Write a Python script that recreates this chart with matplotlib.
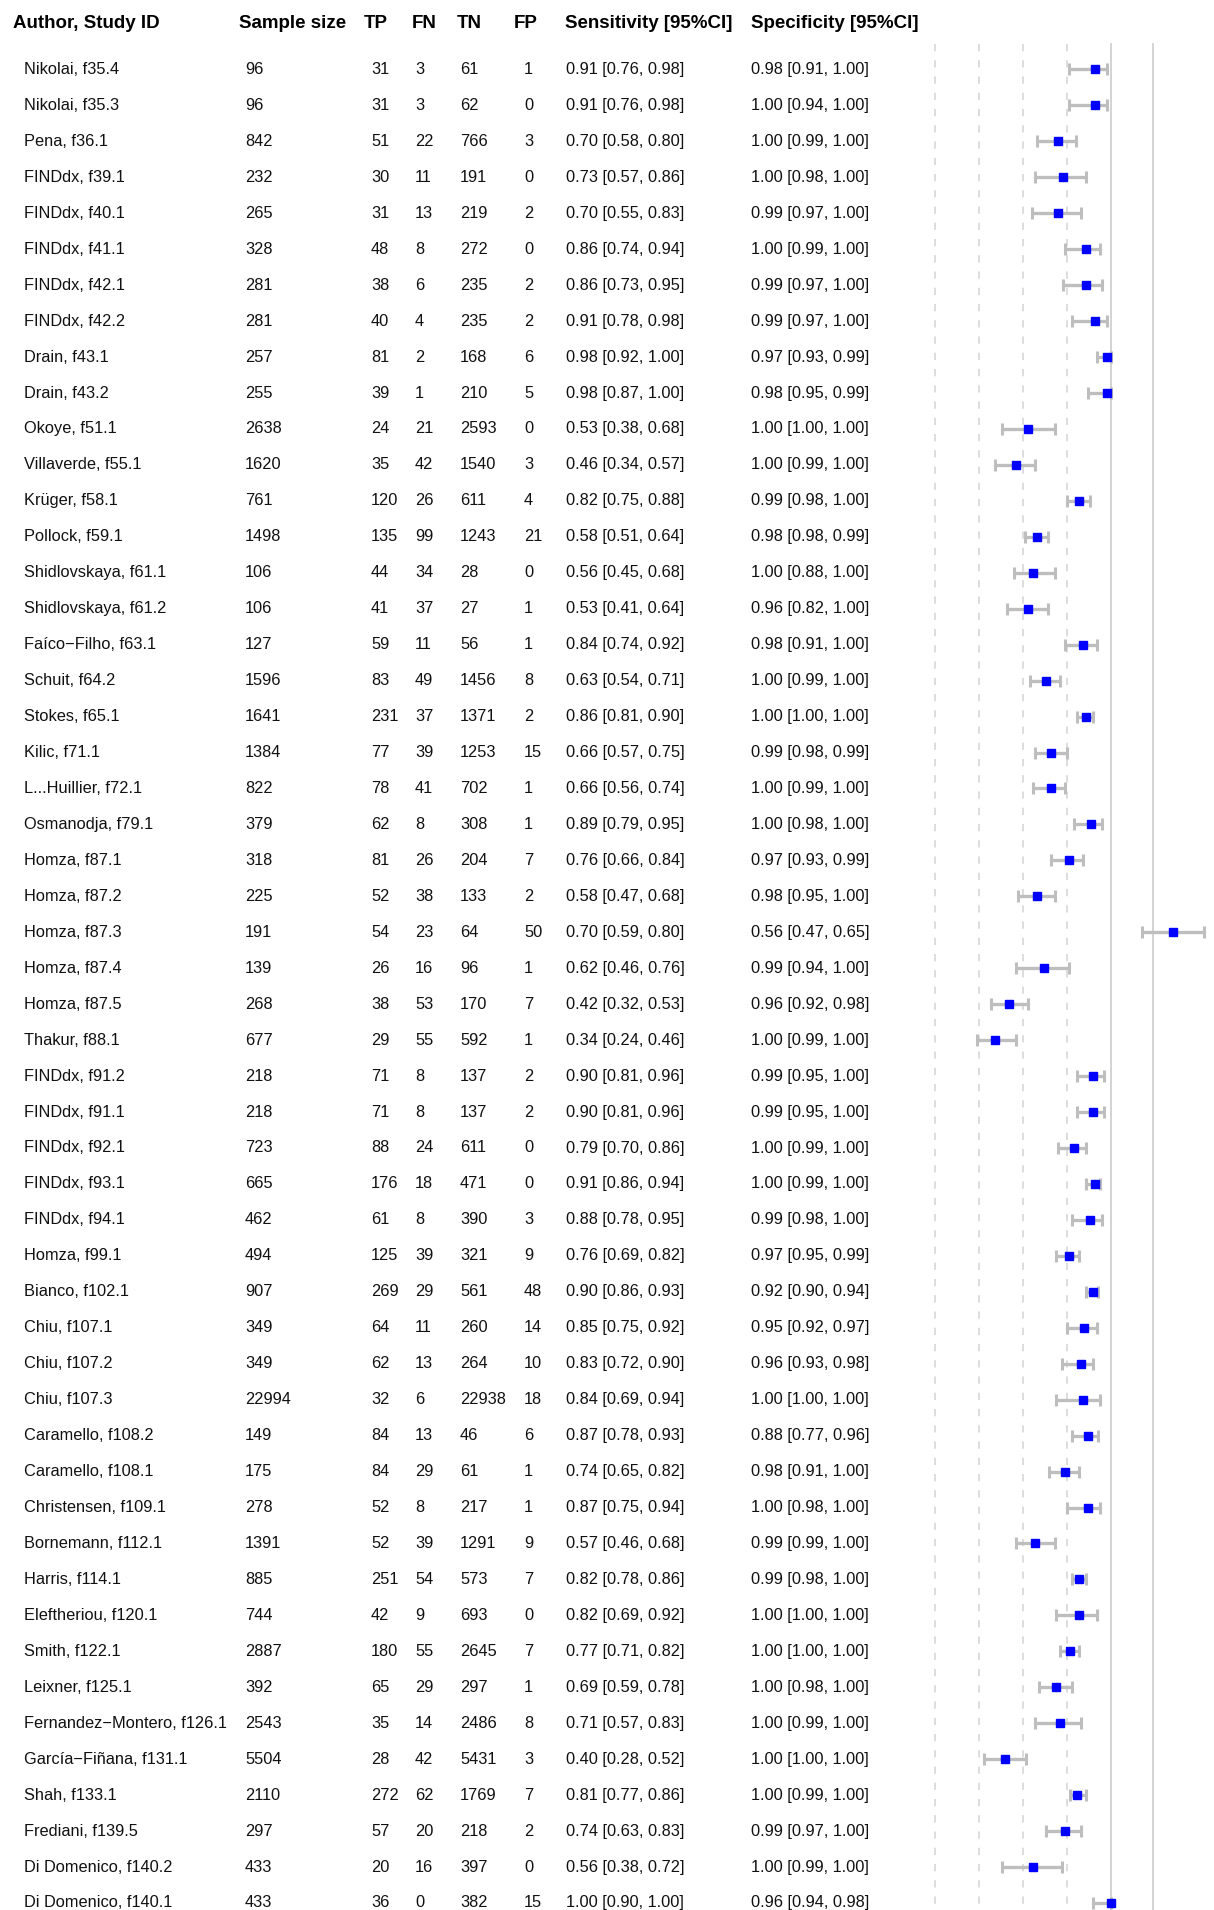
import matplotlib
matplotlib.use("Agg")
import matplotlib.pyplot as plt

plt.rcParams["font.family"] = ["Liberation Sans", "DejaVu Sans"]

studies = [
    "Nikolai, f35.4", "Nikolai, f35.3", "Pena, f36.1", "FINDdx, f39.1", "FINDdx, f40.1",
    "FINDdx, f41.1", "FINDdx, f42.1", "FINDdx, f42.2", "Drain, f43.1", "Drain, f43.2",
    "Okoye, f51.1", "Villaverde, f55.1", "Krüger, f58.1", "Pollock, f59.1",
    "Shidlovskaya, f61.1", "Shidlovskaya, f61.2", "Faíco\u2212Filho, f63.1", "Schuit, f64.2",
    "Stokes, f65.1", "Kilic, f71.1", "L...Huillier, f72.1", "Osmanodja, f79.1",
    "Homza, f87.1", "Homza, f87.2", "Homza, f87.3", "Homza, f87.4", "Homza, f87.5",
    "Thakur, f88.1", "FINDdx, f91.2", "FINDdx, f91.1", "FINDdx, f92.1", "FINDdx, f93.1",
    "FINDdx, f94.1", "Homza, f99.1", "Bianco, f102.1", "Chiu, f107.1", "Chiu, f107.2",
    "Chiu, f107.3", "Caramello, f108.2", "Caramello, f108.1", "Christensen, f109.1",
    "Bornemann, f112.1", "Harris, f114.1", "Eleftheriou, f120.1", "Smith, f122.1",
    "Leixner, f125.1", "Fernandez\u2212Montero, f126.1", "García\u2212Fiñana, f131.1",
    "Shah, f133.1", "Frediani, f139.5", "Di Domenico, f140.2", "Di Domenico, f140.1",
]
sample_size = [96, 96, 842, 232, 265, 328, 281, 281, 257, 255, 2638, 1620, 761, 1498,
               106, 106, 127, 1596, 1641, 1384, 822, 379, 318, 225, 191, 139, 268, 677,
               218, 218, 723, 665, 462, 494, 907, 349, 349, 22994, 149, 175, 278, 1391,
               885, 744, 2887, 392, 2543, 5504, 2110, 297, 433, 433]
tp = [31, 31, 51, 30, 31, 48, 38, 40, 81, 39, 24, 35, 120, 135, 44, 41, 59, 83, 231, 77,
      78, 62, 81, 52, 54, 26, 38, 29, 71, 71, 88, 176, 61, 125, 269, 64, 62, 32, 84, 84,
      52, 52, 251, 42, 180, 65, 35, 28, 272, 57, 20, 36]
fn = [3, 3, 22, 11, 13, 8, 6, 4, 2, 1, 21, 42, 26, 99, 34, 37, 11, 49, 37, 39, 41, 8, 26,
      38, 23, 16, 53, 55, 8, 8, 24, 18, 8, 39, 29, 11, 13, 6, 13, 29, 8, 39, 54, 9, 55, 29,
      14, 42, 62, 20, 16, 0]
tn = [61, 62, 766, 191, 219, 272, 235, 235, 168, 210, 2593, 1540, 611, 1243, 28, 27, 56,
      1456, 1371, 1253, 702, 308, 204, 133, 64, 96, 170, 592, 137, 137, 611, 471, 390, 321,
      561, 260, 264, 22938, 46, 61, 217, 1291, 573, 693, 2645, 297, 2486, 5431, 1769, 218,
      397, 382]
fp = [1, 0, 3, 0, 2, 0, 2, 2, 6, 5, 0, 3, 4, 21, 0, 1, 1, 8, 2, 15, 1, 1, 7, 2, 50, 1, 7,
      1, 2, 2, 0, 0, 3, 9, 48, 14, 10, 18, 6, 1, 1, 9, 7, 0, 7, 1, 8, 3, 7, 2, 0, 15]
sens = [0.91, 0.91, 0.70, 0.73, 0.70, 0.86, 0.86, 0.91, 0.98, 0.98, 0.53, 0.46, 0.82, 0.58,
        0.56, 0.53, 0.84, 0.63, 0.86, 0.66, 0.66, 0.89, 0.76, 0.58, 0.70, 0.62, 0.42, 0.34,
        0.90, 0.90, 0.79, 0.91, 0.88, 0.76, 0.90, 0.85, 0.83, 0.84, 0.87, 0.74, 0.87, 0.57,
        0.82, 0.82, 0.77, 0.69, 0.71, 0.40, 0.81, 0.74, 0.56, 1.00]
sens_lo = [0.76, 0.76, 0.58, 0.57, 0.55, 0.74, 0.73, 0.78, 0.92, 0.87, 0.38, 0.34, 0.75,
           0.51, 0.45, 0.41, 0.74, 0.54, 0.81, 0.57, 0.56, 0.79, 0.66, 0.47, 0.59, 0.46,
           0.32, 0.24, 0.81, 0.81, 0.70, 0.86, 0.78, 0.69, 0.86, 0.75, 0.72, 0.69, 0.78,
           0.65, 0.75, 0.46, 0.78, 0.69, 0.71, 0.59, 0.57, 0.28, 0.77, 0.63, 0.38, 0.90]
sens_hi = [0.98, 0.98, 0.80, 0.86, 0.83, 0.94, 0.95, 0.98, 1.00, 1.00, 0.68, 0.57, 0.88,
           0.64, 0.68, 0.64, 0.92, 0.71, 0.90, 0.75, 0.74, 0.95, 0.84, 0.68, 0.80, 0.76,
           0.53, 0.46, 0.96, 0.96, 0.86, 0.94, 0.95, 0.82, 0.93, 0.92, 0.90, 0.94, 0.93,
           0.82, 0.94, 0.68, 0.86, 0.92, 0.82, 0.78, 0.83, 0.52, 0.86, 0.83, 0.72, 1.00]
spec = [0.98, 1.00, 1.00, 1.00, 0.99, 1.00, 0.99, 0.99, 0.97, 0.98, 1.00, 1.00, 0.99, 0.98,
        1.00, 0.96, 0.98, 1.00, 1.00, 0.99, 1.00, 1.00, 0.97, 0.98, 0.56, 0.99, 0.96, 1.00,
        0.99, 0.99, 1.00, 1.00, 0.99, 0.97, 0.92, 0.95, 0.96, 1.00, 0.88, 0.98, 1.00, 0.99,
        0.99, 1.00, 1.00, 1.00, 1.00, 1.00, 1.00, 0.99, 1.00, 0.96]
spec_lo = [0.91, 0.94, 0.99, 0.98, 0.97, 0.99, 0.97, 0.97, 0.93, 0.95, 1.00, 0.99, 0.98,
           0.98, 0.88, 0.82, 0.91, 0.99, 1.00, 0.98, 0.99, 0.98, 0.93, 0.95, 0.47, 0.94,
           0.92, 0.99, 0.95, 0.95, 0.99, 0.99, 0.98, 0.95, 0.90, 0.92, 0.93, 1.00, 0.77,
           0.91, 0.98, 0.99, 0.98, 1.00, 1.00, 0.98, 0.99, 1.00, 0.99, 0.97, 0.99, 0.94]
spec_hi = [1.00, 1.00, 1.00, 1.00, 1.00, 1.00, 1.00, 1.00, 0.99, 0.99, 1.00, 1.00, 1.00,
           0.99, 1.00, 1.00, 1.00, 1.00, 1.00, 0.99, 1.00, 1.00, 0.99, 1.00, 0.65, 1.00,
           0.98, 1.00, 1.00, 1.00, 1.00, 1.00, 1.00, 0.99, 0.94, 0.97, 0.98, 1.00, 0.96,
           1.00, 1.00, 1.00, 1.00, 1.00, 1.00, 1.00, 1.00, 1.00, 1.00, 1.00, 1.00, 0.98]

# one study is drawn off to the right of the panel in the original figure
drawn_override = {"Homza, f87.3": (1.354, 1.176, 1.528)}

headers = ["Author, Study ID", "Sample size", "TP", "FN", "TN", "FP",
           "Sensitivity [95%CI]", "Specificity [95%CI]"]

W, H = 1214, 1910
fig = plt.figure(figsize=(W / 100, H / 100), dpi=100)

# rows: y = row index, first row 69.5 px from top, 35.95 px apart
row0, row_h = 69.5, 35.95
y_bot = (H - row0) / row_h
y_top = -row0 / row_h

ax = fig.add_axes([0, 0, 1, 1])
ax.set_xlim(0, W)
ax.set_ylim(y_bot, y_top)
ax.axis("off")

head_x = [13, 239, 364, 412, 457, 514, 565, 751]
col_x = [24, 245, 371, 415, 460, 524, 566, 751]
y_head = (23.5 - row0) / row_h
for h, x in zip(headers, head_x):
    ax.text(x, y_head, h, fontsize=13.5, fontweight="bold", va="center", ha="left")

for i in range(len(studies)):
    cells = [
        studies[i], str(sample_size[i]), str(tp[i]), str(fn[i]), str(tn[i]), str(fp[i]),
        "%.2f [%.2f, %.2f]" % (sens[i], sens_lo[i], sens_hi[i]),
        "%.2f [%.2f, %.2f]" % (spec[i], spec_lo[i], spec_hi[i]),
    ]
    for c, x in zip(cells, col_x):
        ax.text(x, i, c, fontsize=11.8, va="center", ha="left", color="#111111")

# forest panel: 0 at 935 px, 1 at 1110.8 px
px0, px_unit = 935.0, 175.8
fx = fig.add_axes([0, 0, 1, 1], facecolor="none")
fx.set_xlim(-px0 / px_unit, (W - px0) / px_unit)
fx.set_ylim(y_bot, y_top)
fx.axis("off")

line_top = (44 - row0) / row_h
for v in [0, 0.25, 0.5, 0.75]:
    fx.plot([v, v], [line_top, y_bot], color="#dadada", lw=1.3,
            dashes=(4, 5), zorder=1)
for v in [1.0, 1.24]:
    fx.plot([v, v], [line_top, y_bot], color="#d0d0d0", lw=1.3, zorder=1)

for i, s in enumerate(studies):
    est, lo, hi = drawn_override.get(s, (sens[i], sens_lo[i], sens_hi[i]))
    fx.errorbar(est, i, xerr=[[est - lo], [hi - est]], fmt="none",
                ecolor="#bebebe", elinewidth=2.4, capsize=4.2, capthick=2.2, zorder=2)
    fx.plot(est, i, marker="s", ms=5.2, color="#0000ff", mec="#0000ff", zorder=3)

fig.savefig("out.png", dpi=100)
